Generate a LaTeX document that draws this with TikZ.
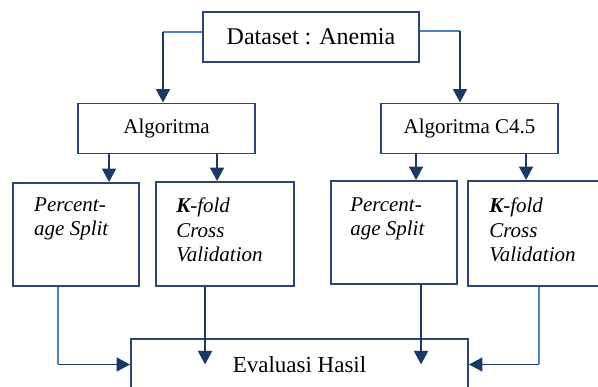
\documentclass[tikz,border=0pt]{standalone}
\usepackage{fontspec}
\setmainfont{Liberation Serif}
\usepackage{tikz}
\usetikzlibrary{arrows.meta,positioning,calc}
\definecolor{boxline}{HTML}{2B4672}
\definecolor{navy}{HTML}{1B3A63}
\definecolor{lightln}{HTML}{4F81BD}
\tikzset{
  box/.style   ={draw=boxline, line width=1.9pt, fill=white, inner sep=0pt},
  head/.style  ={box, font=\fontsize{21}{25}\selectfont, minimum width=177pt, minimum height=50pt},
  meth/.style  ={box, minimum height=104pt},
  mtxt/.style  ={font=\fontsize{21}{24.5}\selectfont\itshape, align=left, anchor=north west, inner sep=0pt},
  fl/.style    ={draw=navy, line width=1.7pt, -{Triangle[length=13.5pt,width=14pt]}},
  lt/.style    ={draw=lightln, line width=1.5pt},
}
\begin{document}
\begin{tikzpicture}[x=1pt,y=-1pt]
  \useasboundingbox (0,0) rectangle (598,387);
  \clip (0,0) rectangle (598,387);
  \node[box,font=\fontsize{24}{28}\selectfont,minimum width=216pt,minimum height=50pt] (data) at (311,37) {Dataset : Anemia};
  \node[head] (alg1) at (166.5,128.5) {Algoritma};
  \node[head] (alg2) at (469.5,128.5) {Algoritma C4.5};
  \node[meth,minimum width=126pt,minimum height=103pt] (ps1) at (76,234.5) {};
  \node[meth,minimum width=138pt] (kf1) at (225,234) {};
  \node[meth,minimum width=126pt,minimum height=103pt] (ps2) at (394,232.5) {};
  \node[meth,minimum width=146pt,minimum height=105pt] (kf2) at (541,233.5) {};
  \node[box,font=\fontsize{23}{27}\selectfont,minimum width=337pt,minimum height=51pt] (eval) at (299.5,364.5) {Evaluasi Hasil};
  \node[mtxt] (ps1t) at ($(ps1.north west)+(22,15.5)$) {Percent-\\age Split};
  \node[mtxt] (kf1t) at ($(kf1.north west)+(21,16.5)$) {\textbf{K}-fold\\Cross\\Validation};
  \node[mtxt] (ps2t) at ($(ps2.north west)+(20,17.5)$) {Percent-\\age Split};
  \node[mtxt] (kf2t) at ($(kf2.north west)+(22,17.5)$) {\textbf{K}-fold\\Cross\\Validation};
  % connector points
  \coordinate (d1) at ([yshift=5pt]data.west);
  \coordinate (d2) at ([yshift=6pt]data.east);
  \coordinate (a1) at ([xshift=-3.5pt]alg1.north);
  \coordinate (a2) at ([xshift=-9.5pt]alg2.north);
  \coordinate (c1) at (a1 |- d1);
  \coordinate (c2) at (a2 |- d2);
  \coordinate (s1) at ([xshift=32pt]alg1.south west);
  \coordinate (s2) at ([xshift=140pt]alg1.south west);
  \coordinate (s3) at ([xshift=36pt]alg2.south west);
  \coordinate (s4) at ([xshift=146pt]alg2.south west);
  \coordinate (b1) at ([xshift=46pt]ps1.south west);
  \coordinate (b2) at ([xshift=50pt]kf1.south west);
  \coordinate (b3) at ([xshift=91pt]ps2.south west);
  \coordinate (b4) at ([xshift=72pt]kf2.south west);
  \coordinate (c3) at (b1 |- eval.west);
  \coordinate (c4) at (b4 |- eval.east);
  \draw[lt] (d1) -- (c1);
  \draw[fl] (c1) -- (c1 |- alg1.north);
  \draw[lt] (d2) -- (c2);
  \draw[fl] (c2) -- (c2 |- alg2.north);
  \draw[fl] (s1) -- (s1 |- ps1.north);
  \draw[fl] (s2) -- (s2 |- kf1.north);
  \draw[fl] (s3) -- (s3 |- ps2.north);
  \draw[fl] (s4) -- (s4 |- kf2.north);
  \draw[lt] (b1) -- (c3);
  \draw[fl] (c3) -- (eval.west);
  \draw[fl] (b2) -- (b2 |- eval.west);
  \draw[fl] (b3) -- (b3 |- eval.east);
  \draw[lt] (b4) -- (c4);
  \draw[fl] (c4) -- (eval.east);
\end{tikzpicture}
\end{document}
